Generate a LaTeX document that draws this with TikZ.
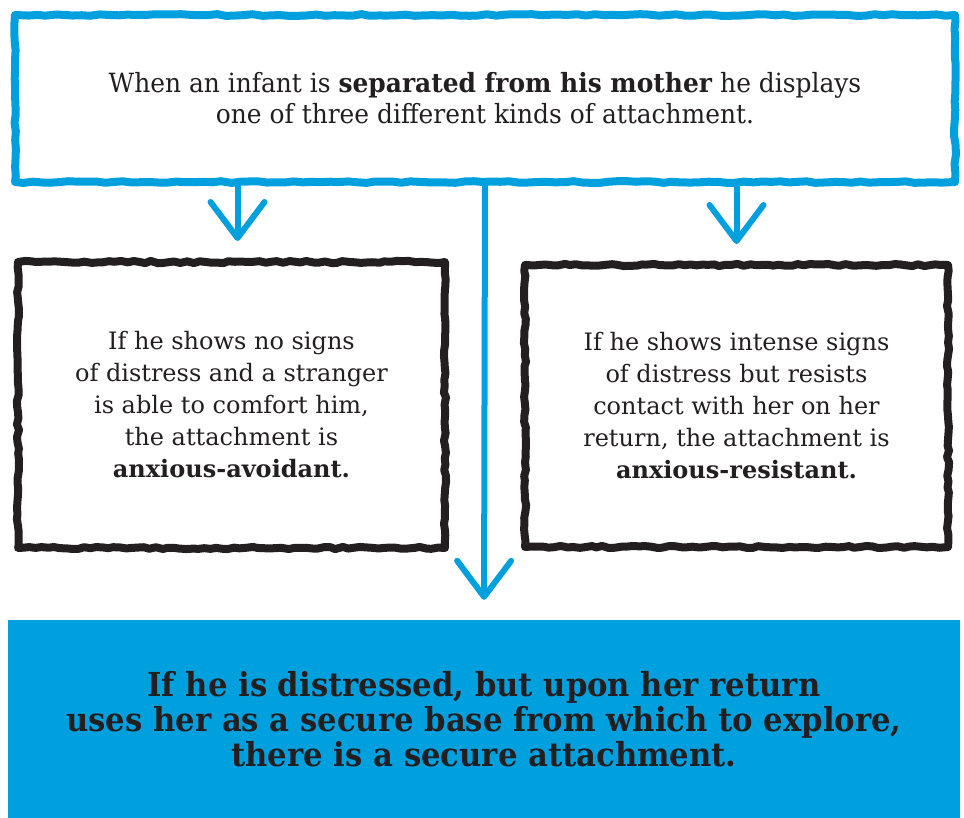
\documentclass[tikz,border=0pt]{standalone}
\usepackage{fontspec}
\setmainfont{DejaVu Serif}
\newfontfamily\topfont[FakeStretch=0.94]{DejaVu Serif}
\newfontfamily\boxfont[FakeStretch=1.0]{DejaVu Serif}
\newfontfamily\heavyfont[FakeStretch=0.93]{DejaVu Serif}
\usetikzlibrary{arrows.meta,decorations.pathmorphing,calc}
\definecolor{cyanblue}{RGB}{0,160,222}
\definecolor{ink}{RGB}{35,31,32}
\tikzset{
  roughblue/.style={decorate,decoration={random steps,segment length=9pt,amplitude=0.9pt}},
  roughink/.style={decorate,decoration={random steps,segment length=6pt,amplitude=1.1pt}},
  bluebox/.style={draw=cyanblue,line width=8pt,line join=round,roughblue,inner sep=0pt,
    align=center,text=ink,font=\topfont\fontsize{26.5}{31}\selectfont},
  inkbox/.style={draw=ink,line width=8pt,line join=round,roughink,inner sep=0pt,
    align=center,text=ink,font=\boxfont\fontsize{24}{32}\selectfont},
  fillbox/.style={fill=cyanblue,inner sep=0pt,align=center,text=ink,
    font=\heavyfont\bfseries\fontsize{33}{35}\selectfont},
  flow/.style={draw=cyanblue,line width=6pt,line cap=round,
    -{Straight Barb[length=36pt,width=54pt,line width=6pt,round]}}
}
\begin{document}
\begin{tikzpicture}[x=1pt,y=-1pt]
\useasboundingbox (0,0) rectangle (964,818);
\node[fillbox,minimum width=952pt,minimum height=198pt] (b) at (484,719)
  {If he is distressed, but upon her return\\uses her as a secure base from which to explore,\\there is a secure attachment.};
\node[bluebox,minimum width=940pt,minimum height=167pt] (top) at (485,98.5)
  {When an infant is \textbf{separated from his mother} he displays\\one of three different kinds of attachment.};
\node[inkbox,minimum width=427pt,minimum height=286pt] (l) at (231.5,405)
  {If he shows no signs\\of distress and a stranger\\is able to comfort him,\\the attachment is\\\textbf{anxious-avoidant.}};
\node[inkbox,minimum width=423pt,minimum height=282pt] (r) at (736.5,406)
  {If he shows intense signs\\of distress but resists\\contact with her on her\\return, the attachment is\\\textbf{anxious-resistant.}};
\draw[flow,shorten >=17pt] ([xshift=6pt]top.south -| l.north) -- ([xshift=6pt]l.north);
\draw[flow,shorten >=17pt] (top.south -| r.north) -- (r.north);
\draw[flow,shorten >=20pt] (top.south) -- (b.north);
\end{tikzpicture}
\end{document}
